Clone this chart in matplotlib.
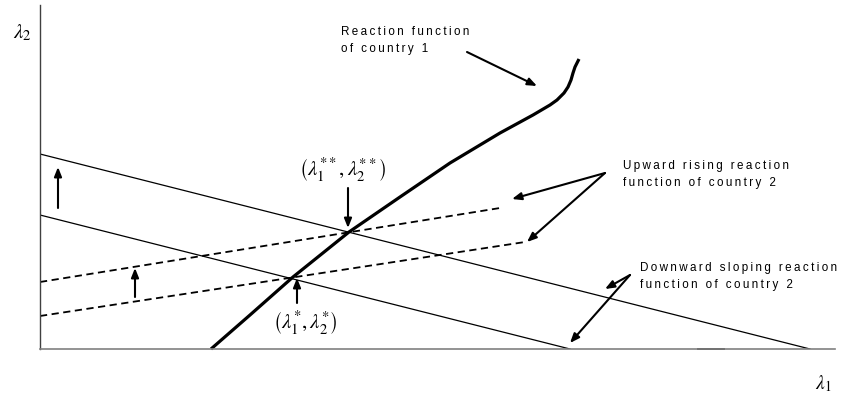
import numpy as np
import matplotlib.pyplot as plt

plt.rcParams['mathtext.fontset'] = 'stix'
plt.rcParams['font.family'] = ['Liberation Sans', 'DejaVu Sans']

# reaction function of country 1 (thick curve)
curve_x = [171, 210, 253, 309, 360, 410, 460, 493, 510, 517, 524, 528, 531, 533, 535, 537, 539]
curve_y = [0, 34, 72, 117, 152, 186, 216, 234, 244, 249, 256, 262, 269, 276, 282, 286, 290]

# downward sloping reaction functions of country 2 (start, end)
down_hi_x = [0, 770]
down_hi_y = [195, 0]
down_lo_x = [0, 530]
down_lo_y = [134, 0]

# upward rising reaction functions of country 2
up_hi_x = [0, 460]
up_hi_y = [67, 141]
up_lo_x = [0, 485]
up_lo_y = [33, 107]

x_max, y_max = 795, 344


def spaced(s):
    return '\u2009'.join(s)


fig = plt.figure(figsize=(8.41, 3.95), dpi=100)
ax = fig.add_axes([40 / 841, 46 / 395, 795 / 841, 344 / 395])
ax.set_xlim(0, x_max)
ax.set_ylim(0, y_max)
ax.set_xticks([])
ax.set_yticks([])
for s in ['top', 'right']:
    ax.spines[s].set_visible(False)
ax.spines['left'].set_color('#404040')
ax.spines['bottom'].set_color('#808080')
ax.spines['left'].set_linewidth(1.0)
ax.spines['bottom'].set_linewidth(1.2)
ax.plot([658, 684], [0, 0], color='#333333', lw=1.4, clip_on=False)

ax.plot(down_hi_x, down_hi_y, color='k', lw=0.9)
ax.plot(down_lo_x, down_lo_y, color='k', lw=0.9)
ax.plot(up_hi_x, up_hi_y, color='k', lw=1.3, ls=(0, (4, 2.5)))
ax.plot(up_lo_x, up_lo_y, color='k', lw=1.3, ls=(0, (4, 2.5)))
ax.plot(curve_x, curve_y, color='k', lw=2.3, solid_capstyle='butt', clip_on=False)

arrow = dict(arrowstyle='-|>,head_length=0.55,head_width=0.22', lw=1.5, color='k',
             shrinkA=0, shrinkB=0)

def arr(x0, y0, x1, y1):
    ax.annotate('', xy=(x1, y1), xytext=(x0, y0), arrowprops=arrow, annotation_clip=False)

# shift arrows
arr(18, 141, 18, 182)
arr(95, 52, 95, 81)
arr(257, 46, 257, 71)
arr(308, 161, 308, 121)

# label arrows
arr(427, 297, 497, 263)
arr(565, 176, 472, 150)
arr(565, 176, 487, 107)
arr(590, 74, 565, 60)
arr(590, 74, 530, 6)

fs = 8.4
ax.text(301, 308.5, spaced('Reaction function') + '\n' + spaced('of country 1'),
        fontsize=fs, ha='left', va='center', linespacing=1.45)
ax.text(583, 174.5, spaced('Upward rising reaction') + '\n' + spaced('function of country 2'),
        fontsize=fs, ha='left', va='center', linespacing=1.45, clip_on=False)
ax.text(600, 72.5, spaced('Downward sloping reaction') + '\n' + spaced('function of country 2'),
        fontsize=fs, ha='left', va='center', linespacing=1.45, clip_on=False)

ax.text(303, 179, r'$\left(\lambda_1^{**},\lambda_2^{**}\right)$', fontsize=15,
        ha='center', va='center')
ax.text(265, 26, r'$\left(\lambda_1^{*},\lambda_2^{*}\right)$', fontsize=15,
        ha='center', va='center')
ax.text(-18, 316, r'$\lambda_2$', fontsize=15, ha='center', va='center', clip_on=False)
ax.text(783, -35, r'$\lambda_1$', fontsize=14, ha='center', va='center', clip_on=False)

fig.savefig('out.png', dpi=100)
